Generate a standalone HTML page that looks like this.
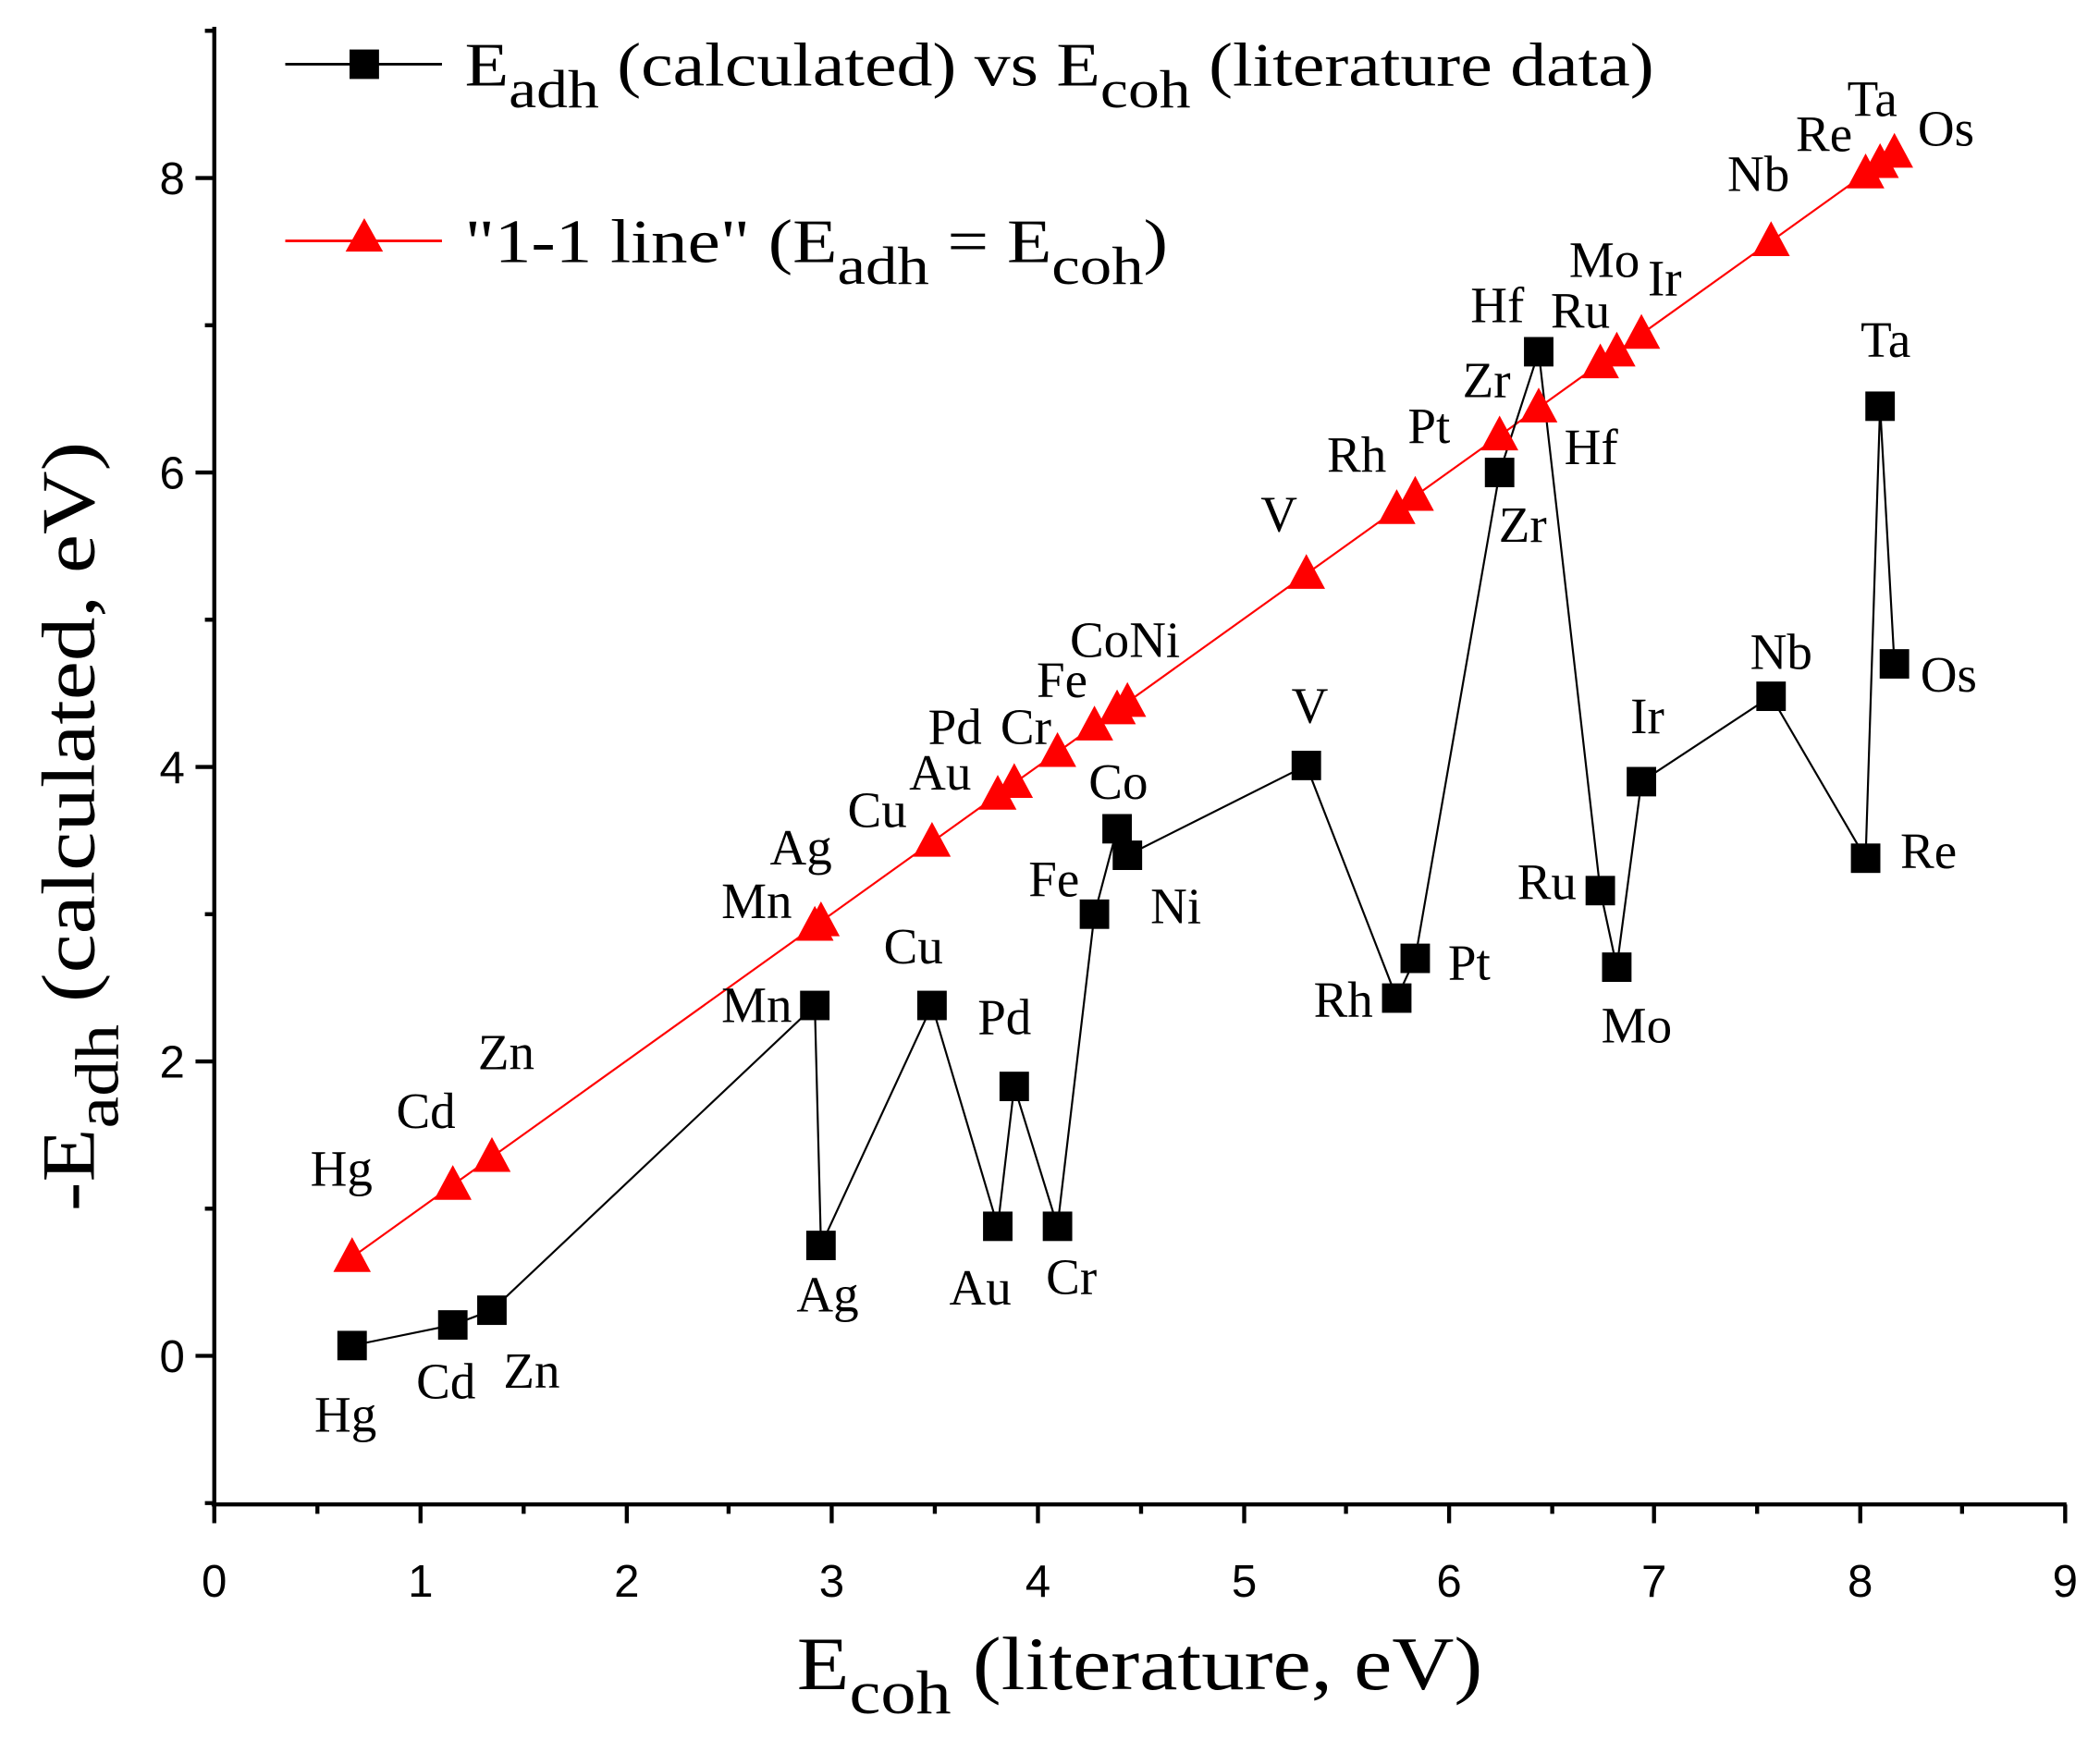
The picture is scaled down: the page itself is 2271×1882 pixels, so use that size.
<!DOCTYPE html>
<html><head><meta charset="utf-8"><style>
html,body{margin:0;padding:0;background:#fff;}
svg{display:block;}
.s text{font-family:"Liberation Serif",serif;}
.t text{font-family:"Liberation Sans",sans-serif;font-size:34px;}
.l text{font-family:"Liberation Serif",serif;font-size:38px;text-anchor:middle;dominant-baseline:central;}
</style></head><body>
<svg width="2271" height="1882" viewBox="0 0 1568 1300" preserveAspectRatio="none" xmlns="http://www.w3.org/2000/svg">
<defs>
<rect id="sq" x="-11" y="-11" width="22" height="22" fill="#000"/>
<polygon id="tr" points="0,-15 -14,11 14,11" fill="#f00"/>
</defs>
<rect width="1568" height="1300" fill="#fff"/>
<g stroke="#000" stroke-width="3" fill="none">
<line x1="160" y1="20" x2="160" y2="1125"/>
<line x1="158" y1="1124" x2="1543" y2="1124"/>
<path d="M160 1124v14M314 1124v14M468 1124v14M621 1124v14M775 1124v14M929 1124v14M1082 1124v14M1235 1124v14M1389 1124v14M1542 1124v14"/>
<path d="M237 1124v7M391 1124v7M544 1124v7M698 1124v7M852 1124v7M1005 1124v7M1159 1124v7M1312 1124v7M1465 1124v7"/>
<path d="M160 1013h-14M160 793h-14M160 573h-14M160 353h-14M160 133h-14"/>
<path d="M160 1123h-7M160 903h-7M160 683h-7M160 463h-7M160 243h-7M160 23h-7"/>
</g>
<g class="t" text-anchor="middle">
<text x="160" y="1193">0</text><text x="314" y="1193">1</text><text x="468" y="1193">2</text><text x="621" y="1193">3</text><text x="775" y="1193">4</text><text x="929" y="1193">5</text><text x="1082" y="1193">6</text><text x="1235" y="1193">7</text><text x="1389" y="1193">8</text><text x="1542" y="1193">9</text>
</g>
<g class="t" text-anchor="end">
<text x="138" y="1025">0</text><text x="138" y="805">2</text><text x="138" y="585">4</text><text x="138" y="365">6</text><text x="138" y="145">8</text>
</g>
<g class="s">
<text x="595" y="1262" font-size="56" textLength="512" lengthAdjust="spacingAndGlyphs">E<tspan font-size="46" dy="18">coh</tspan><tspan dy="-18"> (literature, eV)</tspan></text>
<text transform="translate(70,905) rotate(-90)" font-size="56" textLength="575" lengthAdjust="spacingAndGlyphs">-E<tspan font-size="46" dy="18">adh</tspan><tspan dy="-18"> (calculated, eV)</tspan></text>
<text x="347" y="64" font-size="46" textLength="888" lengthAdjust="spacingAndGlyphs">E<tspan font-size="40" dy="16">adh</tspan><tspan dy="-16"> (calculated) vs E</tspan><tspan font-size="40" dy="16">coh</tspan><tspan dy="-16"> (literature data)</tspan></text>
<text x="347" y="196" font-size="46" textLength="525" lengthAdjust="spacingAndGlyphs">"1-1 line" (E<tspan font-size="40" dy="16">adh</tspan><tspan dy="-16"> = E</tspan><tspan font-size="40" dy="16">coh</tspan><tspan dy="-16">)</tspan></text>
</g>
<line x1="213" y1="48" x2="330" y2="48" stroke="#000" stroke-width="2"/>
<rect x="261" y="37" width="22" height="22" fill="#000"/>
<line x1="213" y1="180" x2="330" y2="180" stroke="#f00" stroke-width="2"/>
<polygon points="272,163 258,188 286,188" fill="#f00"/>
<polyline fill="none" stroke="#f00" stroke-width="1.5" points="262.9,939.3 338.1,885.4 367.3,864.5 608.4,691.8 613,688.5 695.9,629.1 745,593.9 757.3,585.1 789.6,562 817.2,542.2 834.1,530.1 841.8,524.6 975.4,428.9 1042.9,380.5 1056.7,370.6 1119.7,325.5 1148.9,304.6 1194.9,271.6 1207.2,262.8 1225.6,249.6 1322.4,180.3 1393,129.7 1403.8,122 1414.5,114.3"/>
<polyline fill="none" stroke="#000" stroke-width="1.5" points="262.9,1005.3 338.1,989.9 367.3,978.9 608.4,751.2 613,930.5 695.9,751.2 745,916.2 757.3,811.7 789.6,916.2 817.2,683 834.1,619.2 841.8,639 975.4,571.9 1042.9,745.7 1056.7,716 1119.7,353 1148.9,262.8 1194.9,665.4 1207.2,722.6 1225.6,584 1322.4,520.2 1393,641.2 1403.8,303.5 1414.5,496"/>
<g>
<use href="#tr" x="262.9" y="939.3"/><use href="#tr" x="338.1" y="885.4"/><use href="#tr" x="367.3" y="864.5"/><use href="#tr" x="608.4" y="691.8"/><use href="#tr" x="613" y="688.5"/><use href="#tr" x="695.9" y="629.1"/><use href="#tr" x="745" y="593.9"/><use href="#tr" x="757.3" y="585.1"/><use href="#tr" x="789.6" y="562"/><use href="#tr" x="817.2" y="542.2"/><use href="#tr" x="834.1" y="530.1"/><use href="#tr" x="841.8" y="524.6"/><use href="#tr" x="975.4" y="428.9"/><use href="#tr" x="1042.9" y="380.5"/><use href="#tr" x="1056.7" y="370.6"/><use href="#tr" x="1119.7" y="325.5"/><use href="#tr" x="1148.9" y="304.6"/><use href="#tr" x="1194.9" y="271.6"/><use href="#tr" x="1207.2" y="262.8"/><use href="#tr" x="1225.6" y="249.6"/><use href="#tr" x="1322.4" y="180.3"/><use href="#tr" x="1393" y="129.7"/><use href="#tr" x="1403.8" y="122"/><use href="#tr" x="1414.5" y="114.3"/>
<use href="#sq" x="262.9" y="1005.3"/><use href="#sq" x="338.1" y="989.9"/><use href="#sq" x="367.3" y="978.9"/><use href="#sq" x="608.4" y="751.2"/><use href="#sq" x="613" y="930.5"/><use href="#sq" x="695.9" y="751.2"/><use href="#sq" x="745" y="916.2"/><use href="#sq" x="757.3" y="811.7"/><use href="#sq" x="789.6" y="916.2"/><use href="#sq" x="817.2" y="683"/><use href="#sq" x="834.1" y="619.2"/><use href="#sq" x="841.8" y="639"/><use href="#sq" x="975.4" y="571.9"/><use href="#sq" x="1042.9" y="745.7"/><use href="#sq" x="1056.7" y="716"/><use href="#sq" x="1119.7" y="353"/><use href="#sq" x="1148.9" y="262.8"/><use href="#sq" x="1194.9" y="665.4"/><use href="#sq" x="1207.2" y="722.6"/><use href="#sq" x="1225.6" y="584"/><use href="#sq" x="1322.4" y="520.2"/><use href="#sq" x="1393" y="641.2"/><use href="#sq" x="1403.8" y="303.5"/><use href="#sq" x="1414.5" y="496"/>
</g>
<g class="l">
<text x="255" y="873">Hg</text><text x="318" y="830">Cd</text><text x="378" y="786">Zn</text><text x="565" y="673">Mn</text><text x="598" y="633">Ag</text><text x="655" y="605">Cu</text><text x="702" y="577">Au</text><text x="713" y="543">Pd</text><text x="766" y="543">Cr</text><text x="793" y="508">Fe</text><text x="840" y="478">CoNi</text><text x="955" y="384">V</text><text x="1013" y="340">Rh</text><text x="1067" y="318">Pt</text><text x="1110" y="284">Zr</text><text x="1118" y="228">Hf</text><text x="1180" y="232">Ru</text><text x="1198" y="194">Mo</text><text x="1243" y="208">Ir</text><text x="1313" y="130">Nb</text><text x="1362" y="100">Re</text><text x="1398" y="74">Ta</text><text x="1453" y="96">Os</text>
<text x="258" y="1057">Hg</text><text x="333" y="1032">Cd</text><text x="397" y="1024">Zn</text><text x="565" y="751">Mn</text><text x="618" y="967">Ag</text><text x="682" y="707">Cu</text><text x="732" y="962">Au</text><text x="750" y="760">Pd</text><text x="800" y="954">Cr</text><text x="787" y="657">Fe</text><text x="835" y="584">Co</text><text x="878" y="677">Ni</text><text x="978" y="527">V</text><text x="1003" y="747">Rh</text><text x="1097" y="719">Pt</text><text x="1137" y="392">Zr</text><text x="1188" y="334">Hf</text><text x="1155" y="659">Ru</text><text x="1222" y="766">Mo</text><text x="1230" y="535">Ir</text><text x="1330" y="487">Nb</text><text x="1440" y="636">Re</text><text x="1408" y="254">Ta</text><text x="1455" y="504">Os</text>
</g>
</svg>
</body></html>
